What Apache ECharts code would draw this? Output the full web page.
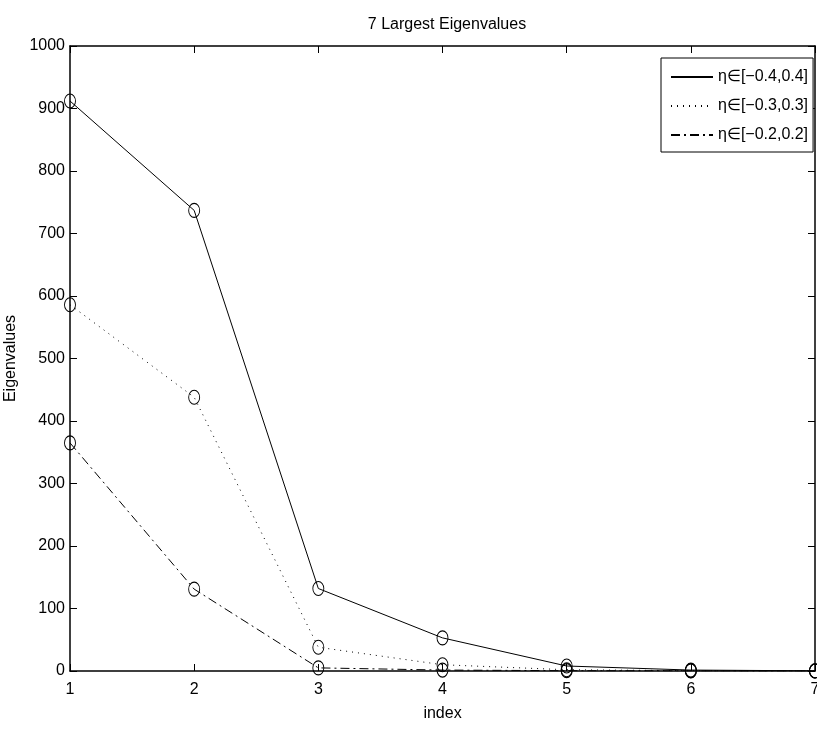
<!DOCTYPE html>
<html>
<head>
<meta charset="utf-8">
<script src="https://cdn.jsdelivr.net/npm/echarts@6/dist/echarts.min.js"></script>
<style>html,body{margin:0;padding:0;background:#fff;}#c{width:817px;height:730px;}</style>
</head>
<body>
<div id="c"></div>
<script>
var indices = [1, 2, 3, 4, 5, 6, 7];
var seriesNames = ['η∈[−0.4,0.4]', 'η∈[−0.3,0.3]', 'η∈[−0.2,0.2]'];
var eig04 = [912, 737, 132, 53, 8, 1.5, 0.3];
var eig03 = [586, 438, 38, 10, 2, 0.5, 0.1];
var eig02 = [365, 131, 5, 1.5, 0.5, 0.2, 0.05];

var FONT = "'Liberation Sans', Arial, sans-serif";
var FS = 16;
function pairs(vals) { return indices.map(function (x, i) { return [x, vals[i]]; }); }

var lineTypes = ['solid', [1, 5], [9, 4, 2, 4]];
var allData = [eig04, eig03, eig02];

var series = allData.map(function (vals, k) {
  return {
    name: seriesNames[k],
    type: 'line',
    data: pairs(vals),
    xAxisIndex: 0, yAxisIndex: 0,
    symbol: 'circle',
    symbolSize: [11, 14],
    showAllSymbol: true,
    lineStyle: { color: '#000', width: 1, type: lineTypes[k] },
    itemStyle: { color: 'transparent', borderColor: '#000', borderWidth: 1 },
    emphasis: { disabled: true },
    animation: false,
    z: 3 - k
  };
});

var chart = echarts.init(document.getElementById('c'), null, { renderer: 'canvas' });
var axisCommon = {
  axisLine: { show: true, onZero: false, lineStyle: { color: '#000', width: 1.5 } },
  axisTick: { show: true, inside: true, length: 7, lineStyle: { color: '#000', width: 1 } },
  splitLine: { show: false }
};
chart.setOption({
  backgroundColor: '#fff',
  animation: false,
  title: {
    text: '7 Largest Eigenvalues',
    left: 442, top: 12, textAlign: 'center',
    textStyle: { fontFamily: FONT, fontSize: FS, fontWeight: 'normal', color: '#000' }
  },
  legend: {
    orient: 'vertical',
    left: 661, top: 58,
    padding: [9, 5, 7, 9],
    itemWidth: 42, itemHeight: 14, itemGap: 9,
    backgroundColor: '#fff',
    borderColor: '#000', borderWidth: 1, borderRadius: 0,
    data: seriesNames,
    itemStyle: { opacity: 0 },
    textStyle: { fontFamily: FONT, fontSize: FS, color: '#000', lineHeight: 20 },
    selectedMode: false
  },
  grid: { left: 70, right: 2, top: 46, bottom: 59, containLabel: false, outerBoundsMode: 'none' },
  xAxis: [
    Object.assign({}, axisCommon, {
      type: 'value', min: 1, max: 7, interval: 1, position: 'bottom',
      name: 'index', nameLocation: 'middle', nameGap: 35,
      nameTextStyle: { fontFamily: FONT, fontSize: FS, color: '#000' },
      axisLabel: { fontFamily: FONT, fontSize: FS, color: '#000', margin: 11 }
    }),
    Object.assign({}, axisCommon, {
      type: 'value', min: 1, max: 7, interval: 1, position: 'top',
      axisLabel: { show: false }
    })
  ],
  yAxis: [
    Object.assign({}, axisCommon, {
      type: 'value', min: 0, max: 1000, interval: 100, position: 'left',
      name: 'Eigenvalues', nameLocation: 'middle', nameGap: 33, nameRotate: 90,
      nameTextStyle: { fontFamily: FONT, fontSize: FS, color: '#000' },
      axisLabel: { fontFamily: FONT, fontSize: FS, color: '#000', margin: 5,
        formatter: function (v) { return String(v); } }
    }),
    Object.assign({}, axisCommon, {
      type: 'value', min: 0, max: 1000, interval: 100, position: 'right',
      axisLabel: { show: false }
    })
  ],
  series: series
});
</script>
</body>
</html>
